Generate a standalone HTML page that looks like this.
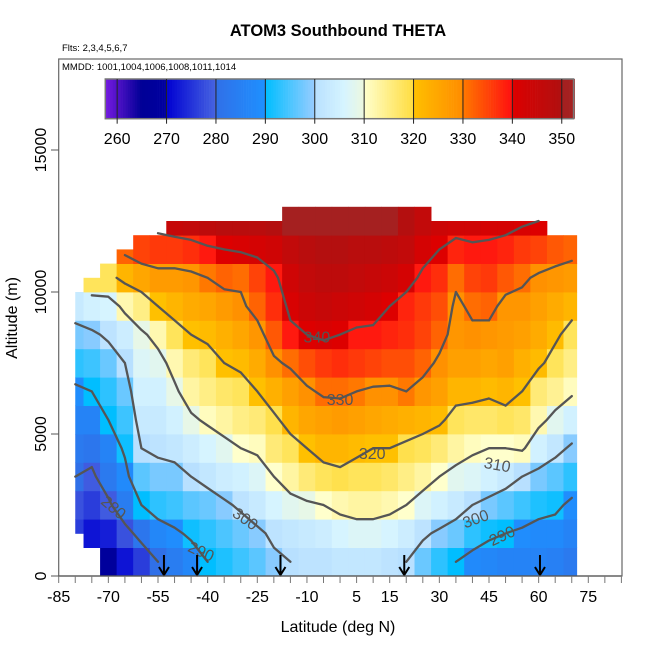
<!DOCTYPE html>
<html><head><meta charset="utf-8">
<style>
html,body{margin:0;padding:0;background:#fff;}
svg{display:block;font-family:"Liberation Sans",Arial,sans-serif;}
</style></head>
<body>
<svg id="chart" width="650" height="650" viewBox="0 0 650 650" xmlns="http://www.w3.org/2000/svg">
  <text x="338" y="36" text-anchor="middle" font-size="16.5" font-weight="bold">ATOM3 Southbound THETA</text>
  <text x="62" y="51" font-size="9.5">Flts: 2,3,4,5,6,7</text>
  <g id="heat"></g>
  <g id="contours"></g>
  <g id="clabels"></g>
  <g id="arrows"></g>
  <rect x="58.7" y="59" width="563.3" height="517" fill="none" stroke="#666" stroke-width="1.2"/>
  <text x="62" y="70" font-size="9.5">MMDD: 1001,1004,1006,1008,1011,1014</text>
  <g id="cbar"></g>
  <g id="xaxis"></g>
  <g id="yaxis"></g>
  <text x="338" y="632" text-anchor="middle" font-size="16">Latitude (deg N)</text>
  <text transform="translate(17,318) rotate(-90)" text-anchor="middle" font-size="16">Altitude (m)</text>
</svg>
<script>
const lats = [-80,-75,-70,-65,-60,-55,-50,-45,-40,-35,-30,-25,-20,-15,-10,-5,0,5,10,15,20,25,30,35,40,45,50,55,60,65,70];
const topAlts = [10000,10500,11000,11500,12000,12000,12500,12500,12500,12500,12500,12500,12500,13000,13000,13000,13000,13000,13000,13000,13000,13000,12500,12500,12500,12500,12500,12500,12500,12000,12000];
const bottomAlts = [1500,500,0,0,0,0,0,0,0,0,0,0,0,0,0,0,0,0,0,0,0,0,0,0,0,0,0,0,0,0,0];
const alts = [500,1500,2500,3500,4500,5500,6500,7500,8500,9500,10500,11500,12500];
const theta = [
 [null,276,278,280,283,286,289,293,298,303,null,null,null],
 [null,272,276,279,282,286,290,294,299,305,318,null,null],
 [268,273,279,283,286,290,293,297,301,306,318,null,null],
 [272,278,284,288,291,294,297,300,304,312,322,332,null],
 [276,282,290,296,300,303,305,307,309,315,325,335,null],
 [280,287,293,298,301,303,305,308,312,320,327,336,343],
 [284,289,294,298,302,305,309,312,318,322,327,336,345],
 [287,291,296,300,304,309,313,316,320,324,328,337,346],
 [290,293,297,302,306,311,315,318,321,325,330,339,347],
 [292,295,299,304,308,313,317,320,323,327,332,340,348],
 [294,297,301,305,310,315,318,321,325,329,331,341,348],
 [296,299,303,307,311,316,320,324,328,332,335,342,348],
 [299,301,306,310,316,319,323,329,333,337,339,343,349],
 [300,302,308,313,318,322,326,331,339,341,343,346,350],
 [301,303,309,316,320,325,329,334,340,344,346,348,351],
 [301,304,310,318,322,326,331,336,341,345,347,349,351],
 [302,306,312,319,322,327,331,337,340,344,347,349,351],
 [302,307,313,318,321,326,330,336,339,343,346,348,351],
 [302,307,313,318,320,325,329,335,339,342,345,348,350],
 [301,306,312,317,320,324,329,334,338,340,344,347,350],
 [300,304,310,315,319,323,330,334,337,338,342,346,349],
 [297,301,307,313,318,322,328,332,335,336,339,342,346],
 [293,299,305,310,316,321,326,329,332,334,337,340,344],
 [290,297,303,308,313,318,322,326,328,329,331,338,343],
 [288,293,300,307,311,317,322,326,329,331,335,339,343],
 [287,291,298,305,310,317,321,325,328,332,336,339,342],
 [286,290,296,303,310,318,322,326,327,328,333,338,342],
 [286,289,294,300,311,317,320,323,326,328,331,336,341],
 [286,288,292,298,305,312,316,321,324,326,329,335,340],
 [285,288,291,296,302,308,314,318,321,324,328,333,null],
 [283,286,289,293,299,305,311,315,318,322,327,332,null]
];
const levels = [280,290,300,310,320,330,340];
const labelLevels = ["340","330","320","310","300","290","300","290","280"];
const labelLats = [-7,0,9.7,47.5,41,49,-28.7,-42,-68.5];
const labelAlts = [8400,6200,4300,3900,2000,1400,2000,850,2400];
const labelAngles = [0,0,0,10,-20,-25,35,25,40];
const arrowLats = [-53.2,-43.2,-18,19.4,60.4];
const xTickLabels = ["-85","-70","-55","-40","-25","-10","5","15","30","45","60","75"];
const yTickLabels = ["0","5000","10000","15000"];
const cbarTicks = [260,270,280,290,300,310,320,330,340,350];

const NS="http://www.w3.org/2000/svg";
function mk(tag,attrs,parent){const e=document.createElementNS(NS,tag);for(const k in attrs)e.setAttribute(k,attrs[k]);parent.appendChild(e);return e;}
const X0=58.7,PX=3.31,Y0=576,PY=0.0284;
function xs(lat){return X0+(lat+85)*PX;}
function ys(alt){return Y0-alt*PY;}

const stops=[[257,[128,32,232]],[260,[80,16,200]],[265,[0,0,150]],[269.9,[0,0,160]],[270,[0,0,210]],[279.9,[70,100,225]],[280,[48,112,232]],[289.9,[30,144,255]],[290,[0,190,255]],[299.9,[150,204,255]],[300,[184,224,255]],[306,[214,244,255]],[309.9,[236,248,224]],[310,[255,255,204]],[319.9,[255,221,64]],[320,[255,192,0]],[329.9,[255,140,0]],[330,[255,120,0]],[339.9,[255,16,16]],[340,[221,0,0]],[349.9,[176,16,16]],[350,[165,32,32]],[353,[165,32,32]]];
function col(v){
  if(v<=stops[0][0])return 'rgb('+stops[0][1]+')';
  for(let i=0;i<stops.length-1;i++){const a=stops[i],b=stops[i+1];
    if(v>=a[0]&&v<=b[0]){const t=(v-a[0])/(b[0]-a[0]);const c=a[1].map((x,j)=>Math.round(x+(b[1][j]-x)*t));return 'rgb('+c.join(',')+')';}}
  return 'rgb('+stops[stops.length-1][1]+')';
}

const heat=document.getElementById('heat');
for(let c=0;c<lats.length;c++){
  for(let r=0;r<alts.length;r++){
    const v=theta[c][r]; if(v===null)continue;
    const a1=Math.min(alts[r]+500,topAlts[c]), a0=Math.max(alts[r]-500,bottomAlts[c]);
    if(a1<=a0)continue;
    const l0=Math.max(lats[c]-2.5,-80), l1=Math.min(lats[c]+2.5,71.5);
    const rc=mk('rect',{x:xs(l0).toFixed(2),y:ys(a1).toFixed(2),width:(xs(l1)-xs(l0)+0.4).toFixed(2),height:((a1-a0)*PY+0.4).toFixed(2),fill:col(v)},heat);
    
    
  }
}

const cg=document.getElementById('contours');
levels.forEach(lev=>{
  let d='';
  for(let c=0;c<lats.length-1;c++){
    for(let r=0;r<alts.length-1;r++){
      const v00=theta[c][r],v10=theta[c+1][r],v01=theta[c][r+1],v11=theta[c+1][r+1];
      if(v00===null||v10===null||v01===null||v11===null)continue;
      const P=[[lats[c],alts[r],v00],[lats[c+1],alts[r],v10],[lats[c+1],alts[r+1],v11],[lats[c],alts[r+1],v01]];
      const pts=[];
      for(let i=0;i<4;i++){const a=P[i],b=P[(i+1)%4];
        if((a[2]<lev)!==(b[2]<lev)){const t=(lev-a[2])/(b[2]-a[2]);pts.push([a[0]+(b[0]-a[0])*t,a[1]+(b[1]-a[1])*t]);}}
      for(let i=0;i+1<pts.length;i+=2){
        d+='M'+xs(pts[i][0]).toFixed(1)+','+ys(pts[i][1]).toFixed(1)+'L'+xs(pts[i+1][0]).toFixed(1)+','+ys(pts[i+1][1]).toFixed(1);
      }
    }
  }
  const p=mk('path',{d:d,fill:'none',stroke:'#555','stroke-width':2.3,'stroke-linecap':'round'},cg);
  
  
});

const lg=document.getElementById('clabels');
labelLevels.forEach((t,i)=>{
  const x=xs(labelLats[i]),y=ys(labelAlts[i]);
  const tx=mk('text',{x:x.toFixed(1),y:(y+5).toFixed(1),'text-anchor':'middle','font-size':16,fill:'#555',transform:'rotate('+labelAngles[i]+','+x.toFixed(1)+','+y.toFixed(1)+')'},lg);
  tx.textContent=t;
  
  
});

const ag=document.getElementById('arrows');
arrowLats.forEach(l=>{
  const x=xs(l);
  const g=mk('g',{},ag);
  
  
  mk('line',{x1:x,y1:555,x2:x,y2:575,stroke:'#000','stroke-width':2},g);
  mk('path',{d:'M'+(x-5)+',567L'+x+',575L'+(x+5)+',567',fill:'none',stroke:'#000','stroke-width':2},g);
});

const cb=document.getElementById('cbar');
const CB0=105.3,CBW=4.94,CBT=79,CBB=118.7,CBmin=257.6,CBmax=352.4;
function cx(v){return CB0+(v-CBmin)*CBW;}
for(let v=CBmin;v<CBmax;v+=0.5){
  const r=mk('rect',{x:cx(v).toFixed(2),y:CBT,width:(0.5*CBW+0.3).toFixed(2),height:CBB-CBT,fill:col(v+0.25)},cb);
  
  
}
mk('rect',{x:CB0,y:CBT,width:cx(CBmax)-CB0,height:CBB-CBT,fill:'none',stroke:'#777','stroke-width':1.5},cb);
cbarTicks.forEach(v=>{
  const x=cx(v);
  mk('line',{x1:x,y1:CBT,x2:x,y2:CBB+5,stroke:'#222','stroke-width':1},cb);
  const t=mk('text',{x:x,y:144,'text-anchor':'middle','font-size':16},cb);
  t.textContent=v;
  
  
});

const xa=document.getElementById('xaxis');
mk('line',{x1:xs(-85),y1:576,x2:xs(85),y2:576,stroke:'#555','stroke-width':1.2},xa);
for(let l=-85;l<=85;l+=5){mk('line',{x1:xs(l),y1:576,x2:xs(l),y2:583,stroke:'#777','stroke-width':1},xa);}
xTickLabels.forEach(s=>{
  const t=mk('text',{x:xs(parseFloat(s)),y:602,'text-anchor':'middle','font-size':16},xa);
  t.textContent=s;
  
  
});

const ya=document.getElementById('yaxis');
yTickLabels.forEach(s=>{
  const y=ys(parseFloat(s));
  mk('line',{x1:51,y1:y,x2:58.7,y2:y,stroke:'#555','stroke-width':1},ya);
  const t=mk('text',{x:0,y:0,'text-anchor':'middle','font-size':16,transform:'translate(46,'+y+') rotate(-90)'},ya);
  t.textContent=s;
  
  
});
</script>
</body></html>
